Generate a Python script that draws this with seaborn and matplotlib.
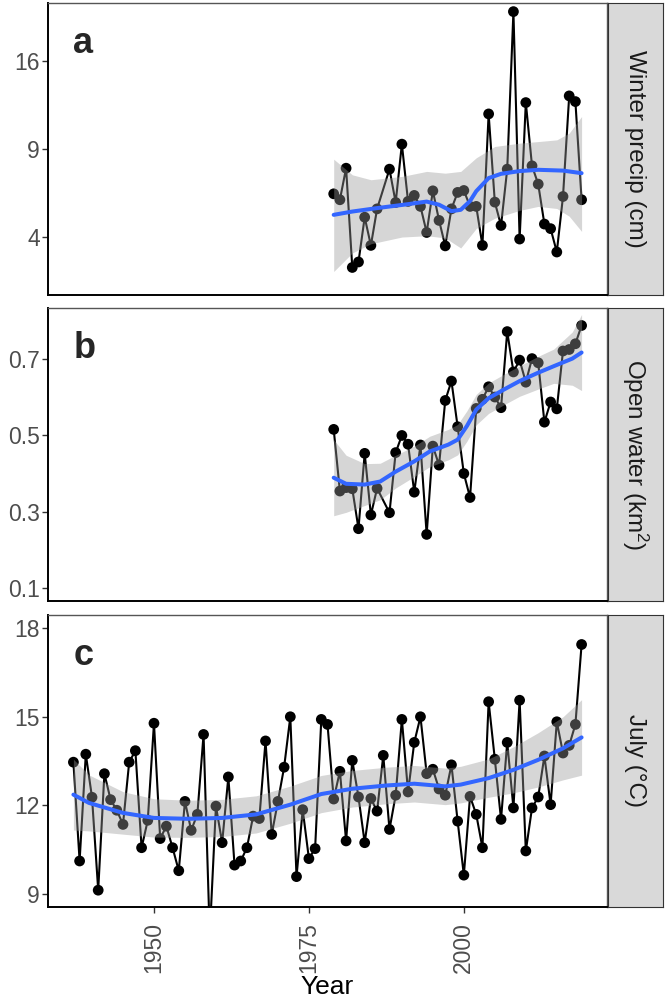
import numpy as np
import pandas as pd
import matplotlib
matplotlib.use('Agg')
import matplotlib.pyplot as plt
import seaborn as sns

# ---------------- data ----------------
ab_years = [1979, 1980, 1981, 1982, 1983, 1984, 1985, 1986, 1988, 1989,
            1990, 1991, 1992, 1993, 1994, 1995, 1996, 1997, 1998, 1999,
            2000, 2001, 2002, 2003, 2004, 2005, 2006, 2007, 2008, 2009,
            2010, 2011, 2012, 2013, 2014, 2015, 2016, 2017, 2018, 2019]

precip = [6.20, 5.87, 7.73, 2.74, 2.95, 4.95, 3.63, 5.38, 7.67, 5.72,
          9.32, 5.78, 6.11, 5.51, 4.21, 6.37, 4.79, 3.61, 5.38, 6.28,
          6.39, 5.51, 5.51, 3.63, 11.53, 5.74, 4.54, 7.67, 20.75, 3.91,
          12.42, 7.88, 6.76, 4.61, 4.39, 3.35, 6.05, 12.96, 12.50, 5.87]

open_water = [0.516, 0.354, 0.363, 0.360, 0.255, 0.453, 0.291, 0.361, 0.297, 0.455,
              0.500, 0.477, 0.351, 0.475, 0.240, 0.472, 0.422, 0.592, 0.643, 0.523,
              0.400, 0.337, 0.571, 0.595, 0.628, 0.601, 0.573, 0.773, 0.667, 0.698,
              0.640, 0.702, 0.691, 0.535, 0.588, 0.570, 0.722, 0.726, 0.741, 0.789]

july_years = list(range(1937, 2020))
july_temp = [13.46, 10.11, 13.73, 12.27, 9.12, 13.07, 12.19, 11.83, 11.35, 13.46,
             13.85, 10.56, 11.49, 14.78, 10.87, 11.29, 10.56, 9.78, 12.13, 11.15,
             11.69, 14.40, 7.60, 11.97, 10.73, 12.96, 9.97, 10.11, 10.56, 11.63,
             11.55, 14.18, 11.01, 12.13, 13.29, 15.00, 9.58, 11.85, 10.19, 10.53,
             14.91, 14.74, 12.21, 13.15, 10.79, 13.52, 12.28, 10.73, 12.23, 11.80,
             13.69, 11.18, 12.34, 14.91, 12.45, 14.13, 15.00, 13.07, 13.22, 12.55,
             12.34, 13.37, 11.46, 9.63, 12.30, 11.69, 10.56, 15.51, 13.56, 11.52,
             14.13, 11.91, 15.56, 10.45, 11.91, 12.28, 13.67, 12.02, 14.83, 13.77,
             14.03, 14.74, 17.45]

# smoothed trend + confidence band
a_fit_years = [1979, 1982, 1986, 1991, 1994, 1996, 1998, 1999.5, 2001, 2002,
               2004, 2006, 2009, 2012, 2016, 2019]
a_fit = [5.07, 5.24, 5.42, 5.63, 5.77, 5.60, 5.26, 5.33, 5.80, 6.35,
         7.12, 7.38, 7.55, 7.63, 7.58, 7.42]
a_band_years = [1979, 1982, 1985, 1990, 1994, 1997, 1999.5, 2002, 2005,
                2009, 2012, 2015, 2017, 2019]
a_hi = [8.31, 7.32, 7.02, 7.22, 7.53, 7.42, 7.53, 8.40, 9.16,
        9.39, 9.50, 9.62, 10.10, 11.33]
a_lo = [2.59, 3.31, 3.70, 4.00, 4.06, 3.96, 3.52, 4.40, 4.90,
        5.30, 5.51, 5.40, 5.00, 4.26]

b_fit_years = [1979, 1981, 1984, 1986.5, 1989, 1992, 1994.5, 1997.5, 1999,
               2000.5, 2002, 2004, 2006.5, 2009, 2012, 2014.5, 2017.5, 2019]
b_fit = [0.389, 0.373, 0.371, 0.379, 0.405, 0.432, 0.458, 0.476, 0.489,
         0.525, 0.568, 0.598, 0.621, 0.643, 0.665, 0.682, 0.702, 0.718]
b_hi = [0.489, 0.448, 0.426, 0.427, 0.448, 0.472, 0.498, 0.516, 0.529,
        0.565, 0.608, 0.638, 0.661, 0.683, 0.708, 0.727, 0.772, 0.818]
b_lo = [0.289, 0.298, 0.316, 0.331, 0.362, 0.392, 0.418, 0.436, 0.449,
        0.485, 0.528, 0.558, 0.581, 0.603, 0.622, 0.637, 0.632, 0.618]

c_fit_years = [1937, 1939.5, 1945, 1950, 1955.5, 1961, 1966.5, 1972, 1977, 1982,
               1987.5, 1992, 1997, 1999.5, 2004, 2008, 2012, 2016, 2019]
c_fit = [12.36, 12.08, 11.74, 11.57, 11.54, 11.57, 11.69, 12.02, 12.38, 12.56,
         12.67, 12.73, 12.64, 12.70, 12.92, 13.20, 13.54, 13.93, 14.30]
c_hi = [13.56, 13.03, 12.46, 12.22, 12.17, 12.20, 12.32, 12.65, 13.01, 13.18,
        13.29, 13.35, 13.26, 13.32, 13.57, 13.98, 14.46, 15.00, 15.58]
c_lo = [11.16, 11.13, 11.02, 10.92, 10.91, 10.94, 11.06, 11.39, 11.75, 11.94,
        12.05, 12.11, 12.02, 12.08, 12.27, 12.42, 12.62, 12.86, 13.02]

strip_labels = ['Winter precip (cm)', 'Open water (km$^2$)', 'July (°C)']
panel_letters = ['a', 'b', 'c']
x_ticks = [1950, 1975, 2000]

# ---------------- style ----------------
sns.set_theme(style='white')
plt.rcParams['font.family'] = ['Liberation Sans', 'DejaVu Sans']
plt.rcParams['mathtext.default'] = 'regular'

W, H = 667, 1006
fig = plt.figure(figsize=(W / 100, H / 100), dpi=100)

# panel pixel boxes (top, bottom)
boxes = [(3, 295), (308, 601), (615, 907)]
left_px, right_px = 48, 607
strip_l, strip_r = 608, 663

panels = [
    dict(x=ab_years, y=precip, fx=a_fit_years, fy=a_fit,
         bx=a_band_years, lo=a_lo, hi=a_hi,
         ylim=(1.804, 21.65), yticks=[4, 9, 16], ylabels=['4', '9', '16'], sqrt=True),
    dict(x=ab_years, y=open_water, fx=b_fit_years, fy=b_fit,
         bx=b_fit_years, lo=b_lo, hi=b_hi,
         ylim=(0.065, 0.835), yticks=[0.1, 0.3, 0.5, 0.7],
         ylabels=['0.1', '0.3', '0.5', '0.7'], sqrt=False),
    dict(x=july_years, y=july_temp, fx=c_fit_years, fy=c_fit,
         bx=c_fit_years, lo=c_lo, hi=c_hi,
         ylim=(8.55, 18.45), yticks=[9, 12, 15, 18],
         ylabels=['9', '12', '15', '18'], sqrt=False),
]

tick_col = '#4D4D4D'

for i, (p, (top, bot)) in enumerate(zip(panels, boxes)):
    ax = fig.add_axes([left_px / W, (H - bot) / H,
                       (right_px - left_px) / W, (bot - top) / H])
    if p['sqrt']:
        ax.set_yscale('function', functions=(lambda v: np.sqrt(np.clip(v, 0, None)), np.square))

    df = pd.DataFrame({'Year': p['x'], 'value': p['y']})
    sns.lineplot(data=df, x='Year', y='value', ax=ax, color='black',
                 linewidth=1.5, zorder=2, clip_on=True)
    sns.scatterplot(data=df, x='Year', y='value', ax=ax, color='black',
                    s=60, edgecolor='none', zorder=2, clip_on=True)

    ax.fill_between(p['bx'], p['lo'], p['hi'], color='#999999', alpha=0.4,
                    linewidth=0, zorder=3)
    fit = pd.DataFrame({'Year': p['fx'], 'fit': p['fy']})
    sns.lineplot(data=fit, x='Year', y='fit', ax=ax, color='#3366FF',
                 linewidth=2.9, zorder=4)

    ax.set_xlim(1932.9, 2023.1)
    ax.set_ylim(*p['ylim'])
    ax.set_yticks(p['yticks'])
    ax.set_yticklabels(p['ylabels'])
    ax.minorticks_off()
    ax.set_ylabel('')
    ax.tick_params(axis='y', left=True, length=4, width=1, color='#333333',
                   labelsize=16.5, labelcolor=tick_col, pad=2)

    if i < 2:
        ax.set_xticks([])
        ax.set_xlabel('')
    else:
        ax.set_xticks(x_ticks)
        ax.set_xticklabels([str(t) for t in x_ticks], rotation=90)
        ax.tick_params(axis='x', bottom=True, length=4, width=1, color='#333333',
                       labelsize=16.5, labelcolor=tick_col, pad=7)
        ax.set_xlabel('Year', fontsize=19, color='black', labelpad=1)

    for side in ['top', 'right']:
        ax.spines[side].set_color('#555555')
        ax.spines[side].set_linewidth(1.0)
    for side in ['left', 'bottom']:
        ax.spines[side].set_color('black')
        ax.spines[side].set_linewidth(1.4)

    ax.text(0.045, 0.863, panel_letters[i], transform=ax.transAxes,
            fontsize=26, fontweight='bold', ha='left', va='center')

    # facet strip on the right
    sax = fig.add_axes([strip_l / W, (H - bot) / H,
                        (strip_r - strip_l) / W, (bot - top) / H])
    sax.set_facecolor('#D9D9D9')
    sax.set_xticks([])
    sax.set_yticks([])
    for s in sax.spines.values():
        s.set_color('#333333')
        s.set_linewidth(0.8)
    sax.text(0.5, 0.5, strip_labels[i], rotation=-90, ha='center', va='center',
             fontsize=17.5, color='#1A1A1A', transform=sax.transAxes)

fig.savefig('out.png', dpi=100, facecolor='white')
